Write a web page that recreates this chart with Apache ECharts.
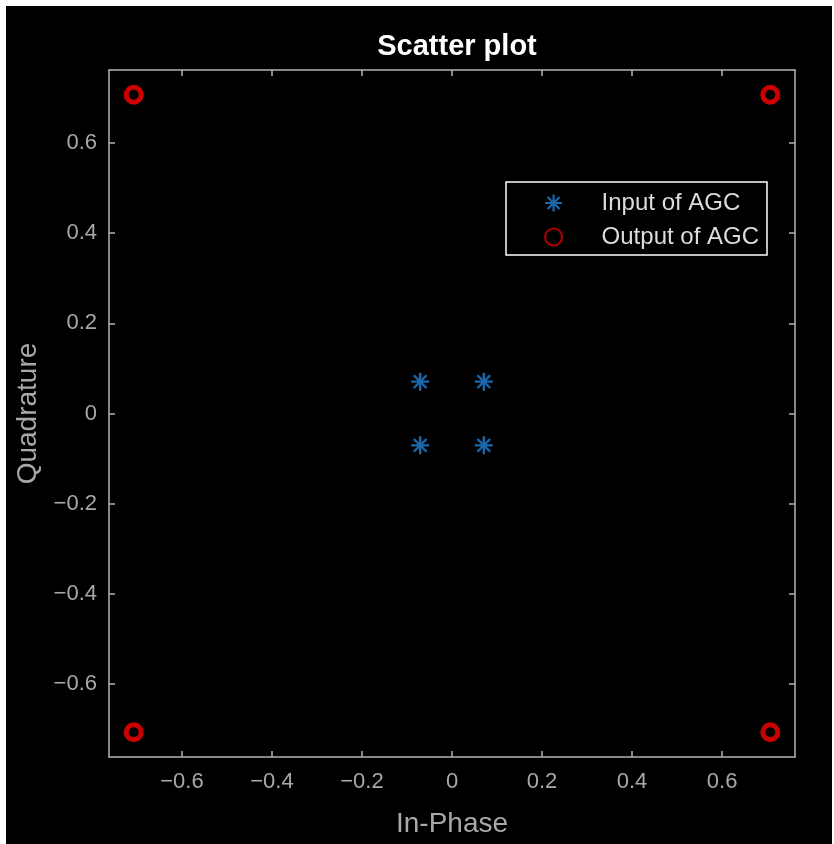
<!DOCTYPE html>
<html><head><meta charset="utf-8">
<script src="https://cdn.jsdelivr.net/npm/echarts@6/dist/echarts.min.js"></script>
<style>
html,body{margin:0;padding:0;background:#fff;width:834px;height:844px;overflow:hidden}
#c{position:absolute;left:6px;top:6px;width:826px;height:838px;background:#000}
</style></head><body><div id="c"></div>
<script>
// ---- data ----
const inputI = [0.0707, -0.0707, -0.0707, 0.0707];
const inputQ = [0.0707, 0.0707, -0.0707, -0.0707];
const outputI = [0.7071, -0.7071, -0.7071, 0.7071];
const outputQ = [0.7071, 0.7071, -0.7071, -0.7071];
const tickValues = [-0.6, -0.4, -0.2, 0, 0.2, 0.4, 0.6];
const axisLimit = 0.762;
const seriesNames = ['Input of AGC', 'Output of AGC'];

// ---- styles ----
const FONT = 'Liberation Sans, Arial, Helvetica, sans-serif';
const axisColor = '#b4b4b4';
const labelColor = '#a8a8a8';
const fmt = v => (Math.abs(v) < 1e-9 ? '0' : v.toFixed(1).replace('-', '\u2212'));

function mkAxis(kind, pos, showLabels) {
  return {
    type: 'value', position: pos, min: -axisLimit, max: axisLimit,
    axisLine: { show: true, onZero: false, lineStyle: { color: axisColor, width: 1.5 } },
    axisTick: { show: true, inside: true, length: 6, customValues: tickValues, lineStyle: { color: axisColor, width: 1.5 } },
    axisLabel: { show: showLabels, customValues: tickValues, formatter: fmt, color: labelColor, fontSize: 22, fontFamily: FONT, margin: kind === 'x' ? 14 : 12 },
    splitLine: { show: false }
  };
}

const xMain = mkAxis('x', 'bottom', true);
Object.assign(xMain, { name: 'In-Phase', nameLocation: 'middle', nameGap: 53,
  nameTextStyle: { color: labelColor, fontSize: 28, fontFamily: FONT } });
const yMain = mkAxis('y', 'left', true);
Object.assign(yMain, { name: 'Quadrature', nameLocation: 'middle', nameGap: 66,
  nameTextStyle: { color: labelColor, fontSize: 28, fontFamily: FONT } });

const starPath = 'path://M0,-10L0,10M-10,0L10,0M-7.07,-7.07L7.07,7.07M-7.07,7.07L7.07,-7.07';
const blue = '#1F82D6';
const red = '#FF0000';

const chart = echarts.init(document.getElementById('c'), null, { renderer: 'canvas' });
chart.setOption({
  backgroundColor: '#000',
  animation: false,
  title: {
    text: 'Scatter plot', left: 446, top: 21, textAlign: 'center',
    textStyle: { color: '#ffffff', fontSize: 29, fontWeight: 'bold', fontFamily: FONT }
  },
  grid: { left: 103, top: 64, width: 686, height: 687, containLabel: false },
  xAxis: [xMain, mkAxis('x', 'top', false)],
  yAxis: [yMain, mkAxis('y', 'right', false)],
  legend: {
    orient: 'vertical', left: 500, top: 176,
    padding: [9, 8, 6, 38],
    itemWidth: 86, itemHeight: 17, itemGap: 10,
    borderColor: '#ffffff', borderWidth: 1.5, backgroundColor: '#000',
    textStyle: { color: '#dcdcdc', fontSize: 24, fontFamily: FONT },
    data: [
      { name: seriesNames[0], icon: starPath, itemStyle: { color: blue, borderColor: blue, borderWidth: 2.2 } },
      { name: seriesNames[1], icon: 'circle', itemStyle: { color: 'rgba(0,0,0,0)', borderColor: '#d40000', borderWidth: 2.2 } }
    ]
  },
  series: [
    {
      name: seriesNames[0], type: 'scatter', xAxisIndex: 0, yAxisIndex: 0,
      symbol: starPath, symbolSize: 18,
      itemStyle: { color: blue, borderColor: blue, borderWidth: 2.4 },
      data: inputI.map((v, i) => [v, inputQ[i]])
    },
    {
      name: seriesNames[1], type: 'scatter', xAxisIndex: 0, yAxisIndex: 0,
      symbol: 'circle', symbolSize: 15,
      itemStyle: { color: 'rgba(0,0,0,0)', borderColor: red, borderWidth: 5 },
      data: outputI.map((v, i) => [v, outputQ[i]])
    }
  ]
});
</script></body></html>
